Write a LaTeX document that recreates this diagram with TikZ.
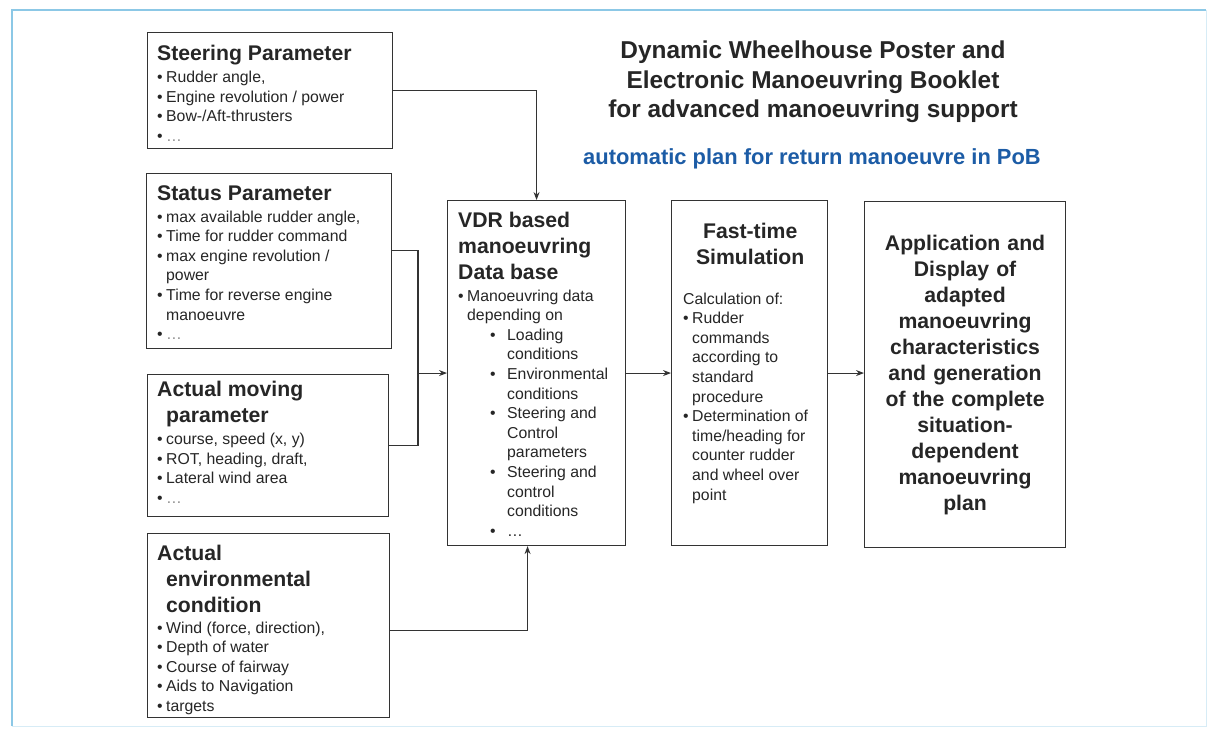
\documentclass[tikz,border=0pt]{standalone}
\usepackage{fontspec}
\setmainfont{Liberation Sans}
\usetikzlibrary{positioning}
\usetikzlibrary{arrows.meta}

\definecolor{pobblue}{RGB}{28,92,166}
\definecolor{frameblue}{RGB}{140,200,230}

\newcommand{\hdfont}{\fontsize{21.2}{26}\selectfont\bfseries\spaceskip=0pt\xspaceskip=0pt}
\newcommand{\bdfont}{\fontsize{15.8}{19.6}\selectfont\spaceskip=0pt\xspaceskip=0pt}
\newcommand{\itm}{\par\noindent\makebox[9pt][l]{\textbullet}}
\newcommand{\cnt}{\par\noindent\hspace*{9pt}}
\newcommand{\sitm}{\par\noindent\hspace*{32pt}\makebox[17pt][l]{\textbullet}}
\newcommand{\scnt}{\par\noindent\hspace*{49pt}}
\newcommand{\more}{{\color{black!45}\dots}}

\begin{document}
\begin{tikzpicture}[%
  >={Stealth[scale=1.0]},
  x=1pt, y=-1pt,
  panel/.style={draw=black!80, line width=1.1pt, anchor=north west,
    inner sep=0pt, fill=white},
  paneltxt/.style={inner sep=0pt, text width=#1, align=left, text=black!85,
    execute at begin node=\setlength{\parindent}{0pt}},
  paneltxt/.default=228pt,
  link/.style={draw=black!80, line width=1.1pt},
]

  \path[use as bounding box, fill=white] (0,0) rectangle (1212,729);

  % frame
  \draw[frameblue!35, line width=1pt] (1206,10) -- (1206,726) -- (12,726);
  \draw[frameblue, line width=1.2pt] (12,726) -- (12,10) -- (1206,10);

  % heading
  \node[font=\fontsize{24.4}{29.5}\selectfont\bfseries, text=black!85,
    align=center, anchor=north, inner sep=0pt] (title) at (813,41)
    {Dynamic Wheelhouse Poster and\\ Electronic Manoeuvring Booklet\\
     for advanced manoeuvring support};
  \node[font=\fontsize{21.9}{25}\selectfont\bfseries, text=pobblue,
    anchor=base, inner sep=0pt] (sub) at (812,164)
    {automatic plan for return manoeuvre in PoB};

  % input panels
  \node[panel, minimum width=245pt, minimum height=116pt] (steer) at (147,32) {};
  \node[paneltxt, below right=13pt and 10pt of steer.north west] (steertxt)
    {{\hdfont Steering Parameter\par}\vspace{2.5pt}\bdfont
     \itm Rudder angle,
     \itm Engine revolution / power
     \itm Bow-/Aft-thrusters
     \itm \more\par};

  \node[panel, minimum width=245pt, minimum height=175pt] (stat) at (146,173) {};
  \node[paneltxt, below right=12pt and 11pt of stat.north west] (stattxt)
    {{\hdfont Status Parameter\par}\vspace{2.5pt}\bdfont
     \itm max available rudder angle,
     \itm Time for rudder command
     \itm max engine revolution /
     \cnt power
     \itm Time for reverse engine
     \cnt manoeuvre
     \itm \more\par};

  \node[panel, minimum width=241pt, minimum height=142pt] (move) at (147,374) {};
  \node[paneltxt, below right=7pt and 10pt of move.north west] (movetxt)
    {{\hdfont Actual moving\par\hspace*{9pt}parameter\par}\vspace{2.5pt}\bdfont
     \itm course, speed (x, y)
     \itm ROT, heading, draft,
     \itm Lateral wind area
     \itm \more\par};

  \node[panel, minimum width=242pt, minimum height=184pt] (env) at (147,533) {};
  \node[paneltxt, below right=12pt and 10pt of env.north west] (envtxt)
    {{\hdfont Actual\par\hspace*{9pt}environmental\par\hspace*{9pt}condition\par}%
     \vspace{1pt}\bdfont
     \itm Wind (force, direction),
     \itm Depth of water
     \itm Course of fairway
     \itm Aids to Navigation
     \itm targets\par};

  % processing chain
  \node[panel, minimum width=178pt, minimum height=345pt] (vdr) at (447,200) {};
  \node[paneltxt=160pt, below right=11.5pt and 11pt of vdr.north west] (vdrtxt)
    {{\hdfont VDR based\par manoeuvring\par Data base\par}\vspace{2.5pt}\bdfont
     \itm Manoeuvring data
     \cnt depending on
     \sitm Loading
     \scnt conditions
     \sitm Environmental
     \scnt conditions
     \sitm Steering and
     \scnt Control
     \scnt parameters
     \sitm Steering and
     \scnt control
     \scnt conditions
     \sitm \dots\par};

  \node[panel, minimum width=156pt, minimum height=345pt] (fast) at (671,200) {};
  \node[paneltxt=134pt, below right=23pt and 12pt of fast.north west] (fasttxt)
    {{\centering\hdfont Fast-time\par Simulation\par}\vspace{20pt}\bdfont
     Calculation of:
     \itm Rudder
     \cnt commands
     \cnt according to
     \cnt standard
     \cnt procedure
     \itm Determination of
     \cnt time/heading for
     \cnt counter rudder
     \cnt and wheel over
     \cnt point\par};

  \node[panel, minimum width=201pt, minimum height=346pt, text width=190pt,
    align=center, font=\hdfont, text=black!85] (app) at (864,201)
    {Application and\\ Display of\\ adapted\\ manoeuvring\\ characteristics\\
     and generation\\ of the complete\\ situation-\\ dependent\\ manoeuvring\\ plan};

  % connectors
  \coordinate (jn) at ([xshift=-29pt]vdr.west);

  \draw[link,->] (steer.east) -| (vdr.north);
  \draw[link] ([yshift=10.5pt]stat.east) -| (jn);
  \draw[link] (move.east) -| (jn);
  \draw[link,->] (jn) -- (vdr.west);
  \draw[link,->] ([yshift=-5pt]env.east) -| ([xshift=-9pt]vdr.south);
  \draw[link,->] (vdr.east) -- (fast.west);
  \draw[link,->] (fast.east) -- (fast.east -| app.west);

\end{tikzpicture}
\end{document}
